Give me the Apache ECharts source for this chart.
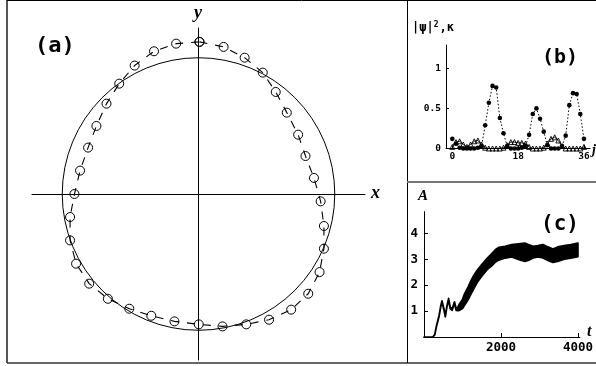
<!DOCTYPE html>
<html>
<head>
<meta charset="utf-8">
<script src="https://cdn.jsdelivr.net/npm/echarts@6/dist/echarts.min.js"></script>
<style>
  html, body { margin: 0; padding: 0; background: #fff; }
  #chart { width: 596px; height: 366px; }
</style>
</head>
<body>
<div id="chart"></div>
<script>
// ---- (a) ring of 36 sites in the (x, y) plane ----
const ringX = [0.007, 0.184, 0.338, 0.471, 0.566, 0.647, 0.730, 0.784, 0.846, 0.895, 0.919, 0.919,
               0.887, 0.804, 0.679, 0.517, 0.350, 0.176, 0.002, -0.176, -0.346, -0.507, -0.664, -0.801,
               -0.897, -0.941, -0.941, -0.909, -0.868, -0.809, -0.748, -0.674, -0.581, -0.468, -0.326, -0.164];
const ringY = [1.118, 1.081, 1.002, 0.892, 0.750, 0.598, 0.436, 0.279, 0.118, -0.054, -0.235, -0.402,
               -0.574, -0.733, -0.850, -0.924, -0.958, -0.973, -0.958, -0.936, -0.895, -0.843, -0.770, -0.659,
               -0.512, -0.341, -0.169, 0.000, 0.172, 0.341, 0.500, 0.664, 0.811, 0.944, 1.049, 1.105];
const refCircle = { cx: 0, cy: 0, r: 1 };

// ---- (b) site populations ----
const siteIndex = [0, 1, 2, 3, 4, 5, 6, 7, 8, 9, 10, 11, 12, 13, 14, 15, 16, 17, 18,
                   19, 20, 21, 22, 23, 24, 25, 26, 27, 28, 29, 30, 31, 32, 33, 34, 35, 36];
const psiSquared = [0.12, 0.06, 0.01, 0.00, 0.00, 0.00, 0.00, 0.01, 0.03, 0.29, 0.57, 0.78, 0.76,
                    0.38, 0.19, 0.03, 0.00, 0.00, 0.00, 0.01, 0.03, 0.17, 0.43, 0.50, 0.37, 0.21,
                    0.04, 0.00, 0.00, 0.00, 0.03, 0.16, 0.54, 0.69, 0.68, 0.43, 0.12];
const kappa = [0.02, 0.08, 0.09, 0.05, 0.02, 0.05, 0.09, 0.10, 0.05, 0.01, 0.00, 0.00, 0.00,
               0.00, 0.01, 0.04, 0.08, 0.08, 0.07, 0.07, 0.06, 0.02, 0.00, 0.00, 0.00, 0.01,
               0.06, 0.12, 0.14, 0.10, 0.03, 0.00, 0.00, 0.00, 0.00, 0.00, 0.02];
const bTicksX = [0, 18, 36];
const bTicksY = [0, 0.5, 1];

// ---- (c) amplitude envelope versus time ----
const timeSteps = [0, 230, 280, 324, 391, 434, 467, 519, 554, 595, 639, 682, 733, 792, 835, 880,
                   920, 1000, 1050, 1150, 1220, 1300, 1390, 1500, 1640, 1760, 1860, 1940, 2110, 2280,
                   2450, 2620, 2710, 2835, 2960, 3090, 3220, 3350, 3470, 3645, 3815, 4000];
const ampLower = [0, 0, 0.08, 0.40, 0.79, 1.15, 1.35, 1.03, 0.78, 1.15, 1.43, 1.09, 1.03, 1.30, 1.03, 1.02,
                  1.03, 1.10, 1.22, 1.45, 1.66, 1.88, 2.12, 2.35, 2.60, 2.75, 2.90, 2.97, 3.05, 3.09,
                  3.00, 2.92, 2.96, 3.05, 3.09, 3.05, 2.96, 2.88, 2.92, 3.01, 3.05, 3.10];
const ampUpper = [0, 0, 0.10, 0.44, 0.83, 1.20, 1.40, 1.08, 0.83, 1.20, 1.49, 1.15, 1.10, 1.36, 1.10, 1.15,
                  1.28, 1.45, 1.66, 1.95, 2.18, 2.40, 2.60, 2.80, 3.04, 3.22, 3.38, 3.46, 3.50, 3.57,
                  3.60, 3.63, 3.57, 3.50, 3.53, 3.57, 3.48, 3.40, 3.48, 3.53, 3.57, 3.63];
const cTicksX = [2000, 4000];
const cTicksY = [1, 2, 3, 4];

const MONO = '"DejaVu Sans Mono", "Liberation Mono", monospace';
const SERIF = '"Liberation Serif", "DejaVu Serif", serif';
const plain = v => String(v);

const ringData = ringX.map((x, i) => [x, ringY[i]]);
ringData.push([ringX[0], ringY[0]]); // close the loop

const chart = echarts.init(document.getElementById('chart'), null, { renderer: 'canvas' });

const hiddenAxis = {
  axisLine: { show: true, onZero: true, lineStyle: { color: '#000', width: 1 } },
  axisTick: { show: false }, axisLabel: { show: false }, splitLine: { show: false }
};

function tickAxis(grid, min, max, ticks, size, margin, len) {
  return {
    type: 'value', gridIndex: grid, min: min, max: max,
    axisLine: { onZero: false, lineStyle: { color: '#000', width: 1 } },
    axisTick: { show: true, inside: true, length: len, customValues: ticks, lineStyle: { color: '#000' } },
    axisLabel: { customValues: ticks, margin: margin, formatter: plain, color: '#000',
                 fontFamily: MONO, fontWeight: 'bold', fontSize: size },
    splitLine: { show: false }
  };
}

const option = {
  animation: false,
  backgroundColor: '#fff',
  grid: [
    { left: 32, top: 28, width: 333, height: 332 },
    { left: 446, top: 45, width: 144, height: 103.5 },
    { left: 424, top: 211.7, width: 158.6, height: 125.3 }
  ],
  xAxis: [
    Object.assign({ type: 'value', gridIndex: 0, min: -1.22, max: 1.22 }, hiddenAxis),
    tickAxis(1, -1.72, 37.65, bTicksX, 9.5, 3, 3),
    tickAxis(2, 0, 4050, cTicksX, 12.5, 4, 4)
  ],
  yAxis: [
    Object.assign({ type: 'value', gridIndex: 0, min: -1.22, max: 1.22 }, hiddenAxis),
    tickAxis(1, 0, 1.29, bTicksY, 9.5, 5, 3),
    tickAxis(2, 0, 4.84, cTicksY, 12.5, 6, 4)
  ],
  series: [
    // (a) reference unit circle
    {
      type: 'custom', xAxisIndex: 0, yAxisIndex: 0, silent: true,
      data: [[refCircle.cx, refCircle.cy, refCircle.r]],
      renderItem: (params, api) => {
        const c = api.coord([api.value(0), api.value(1)]);
        const s = api.size([api.value(2), api.value(2)]);
        return {
          type: 'circle',
          shape: { cx: c[0], cy: c[1], r: (s[0] + s[1]) / 2 },
          style: { fill: 'none', stroke: '#000', lineWidth: 1 }
        };
      }
    },
    // (a) sites joined by a dashed loop
    {
      type: 'line', xAxisIndex: 0, yAxisIndex: 0,
      data: ringData,
      symbol: 'circle', symbolSize: 9,
      itemStyle: { color: 'rgba(0,0,0,0)', borderColor: '#000', borderWidth: 1 },
      lineStyle: { color: '#000', width: 1.1, type: [8, 8] }
    },
    // (b) |psi|^2
    {
      type: 'line', xAxisIndex: 1, yAxisIndex: 1,
      data: siteIndex.map((j, i) => [j, psiSquared[i]]),
      symbol: 'circle', symbolSize: 4.6,
      itemStyle: { color: '#000' },
      lineStyle: { color: '#000', width: 1, type: [1.5, 2] },
      z: 3
    },
    // (b) kappa
    {
      type: 'line', xAxisIndex: 1, yAxisIndex: 1,
      data: siteIndex.map((j, i) => [j, kappa[i]]),
      symbol: 'triangle', symbolSize: 5,
      itemStyle: { color: 'rgba(0,0,0,0)', borderColor: '#000', borderWidth: 0.9 },
      lineStyle: { color: '#000', width: 0.9 },
      z: 2
    },
    // (c) amplitude band between lower and upper envelopes
    {
      type: 'custom', xAxisIndex: 2, yAxisIndex: 2, silent: true,
      data: [[timeSteps[0], ampLower[0]]],
      renderItem: (params, api) => {
        const pts = [];
        for (let i = 0; i < timeSteps.length; i++) pts.push(api.coord([timeSteps[i], ampUpper[i]]));
        for (let i = timeSteps.length - 1; i >= 0; i--) pts.push(api.coord([timeSteps[i], ampLower[i]]));
        return {
          type: 'polygon',
          shape: { points: pts },
          style: { fill: '#000', stroke: '#000', lineWidth: 1.7, lineJoin: 'round' }
        };
      }
    }
  ],
  graphic: [
    // frame
    { type: 'line', shape: { x1: 7, y1: 0, x2: 7, y2: 363 }, style: { stroke: '#555', lineWidth: 2 } },
    { type: 'line', shape: { x1: 7, y1: 0.5, x2: 596, y2: 0.5 }, style: { stroke: '#000', lineWidth: 1 } },
    { type: 'line', shape: { x1: 7, y1: 363, x2: 596, y2: 363 }, style: { stroke: '#333', lineWidth: 1.5 } },
    { type: 'line', shape: { x1: 407.5, y1: 0, x2: 407.5, y2: 363 }, style: { stroke: '#000', lineWidth: 1 } },
    { type: 'line', shape: { x1: 407, y1: 182, x2: 596, y2: 182 }, style: { stroke: '#777', lineWidth: 2 } },
    // panel tags
    { type: 'text', left: 35, top: 35, style: { text: '(a)', font: 'bold 22px ' + MONO, fill: '#000' } },
    { type: 'text', left: 542, top: 48, style: { text: '(b)', font: 'bold 20px ' + MONO, fill: '#000' } },
    { type: 'text', left: 541, top: 214, style: { text: '(c)', font: 'bold 21px ' + MONO, fill: '#000' } },
    // axis names
    { type: 'text', left: 371, top: 184, style: { text: 'x', font: 'italic bold 18px ' + SERIF, fill: '#000' } },
    { type: 'text', left: 194, top: 4, style: { text: 'y', font: 'italic bold 18px ' + SERIF, fill: '#000' } },
    { type: 'text', left: 418, top: 189, style: { text: 'A', font: 'italic bold 15px ' + SERIF, fill: '#000' } },
    { type: 'text', left: 587, top: 324, style: { text: 't', font: 'italic bold 16px ' + SERIF, fill: '#000' } },
    { type: 'text', left: 592, top: 143, style: { text: 'j', font: 'italic bold 14px ' + SERIF, fill: '#000' } },
    {
      type: 'text', left: 412, top: 21,
      style: {
        text: '{a||ψ|}{s|2}{a|,κ}',
        rich: {
          a: { font: 'bold 12px ' + MONO, fill: '#000' },
          s: { font: 'bold 8px ' + MONO, fill: '#000', verticalAlign: 'top', padding: [0, 1, 6, 0] }
        }
      }
    }
  ]
};

chart.setOption(option);
</script>
</body>
</html>
